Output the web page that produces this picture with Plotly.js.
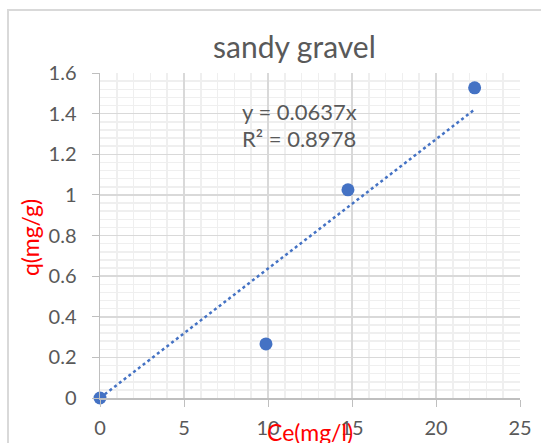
<!DOCTYPE html>
<html>
<head>
<meta charset="utf-8">
<script src="https://cdn.plot.ly/plotly-3.0.1.min.js"></script>
<style>
html,body{margin:0;padding:0;background:#fff;}
#chart{width:541px;height:443px;}
</style>
</head>
<body>
<div id="chart"></div>
<script>
// Data
const ce = [0, 9.88, 14.76, 22.3];
const q = [0, 0.266, 1.025, 1.527];
const slope = 0.0637;
const r2 = 0.8978;
const trendX = [0, 22.3];
const xTicks = [0, 5, 10, 15, 20, 25];
const yTicks = [0, 0.2, 0.4, 0.6, 0.8, 1, 1.2, 1.4, 1.6];
const yTickText = ['0', '0.2', '0.4', '0.6', '0.8', '1', '1.2', '1.4', '1.6'];

const FONT = 'Lato, "Noto Sans", sans-serif';
const GRAY = '#595959';
const BLUE = '#4472c4';

const traces = [
  {
    x: trendX,
    y: trendX.map(v => slope * v),
    mode: 'lines',
    line: {color: BLUE, width: 2.5, dash: 'dot'},
    hoverinfo: 'skip',
    showlegend: false
  },
  {
    x: ce,
    y: q,
    mode: 'markers',
    marker: {color: BLUE, size: 13},
    showlegend: false,
    cliponaxis: false
  }
];

const layout = {
  width: 541,
  height: 443,
  margin: {l: 100, r: 21, t: 73, b: 45},
  paper_bgcolor: '#ffffff',
  plot_bgcolor: '#ffffff',
  font: {family: FONT, color: GRAY, size: 20},
  showlegend: false,
  xaxis: {
    range: [0, 25],
    tickvals: xTicks,
    ticktext: xTicks.map(String),
    showgrid: true,
    gridcolor: '#d9d9d9',
    gridwidth: 1.5,
    minor: {dtick: 1, showgrid: true, gridcolor: '#efefef', gridwidth: 1.5},
    zeroline: false,
    showline: true,
    linecolor: '#bfbfbf',
    linewidth: 1.5,
    ticks: 'outside',
    ticklen: 7,
    tickcolor: '#bfbfbf',
    ticklabelstandoff: 4,
    tickfont: {family: FONT, color: GRAY, size: 20},
    fixedrange: true
  },
  yaxis: {
    range: [0, 1.6],
    tickvals: yTicks,
    ticktext: yTickText,
    showgrid: true,
    gridcolor: '#d9d9d9',
    gridwidth: 1.5,
    minor: {dtick: 0.04, showgrid: true, gridcolor: '#efefef', gridwidth: 1.5},
    zeroline: false,
    showline: true,
    linecolor: '#bfbfbf',
    linewidth: 1.5,
    ticks: 'outside',
    ticklen: 7,
    tickcolor: '#bfbfbf',
    ticklabelstandoff: 11,
    tickfont: {family: FONT, color: GRAY, size: 20},
    fixedrange: true
  },
  annotations: [
    {
      text: 'sandy gravel', xref: 'paper', yref: 'paper',
      x: 0.462, y: 1.083, xanchor: 'center', yanchor: 'middle',
      showarrow: false, font: {family: FONT, color: GRAY, size: 30}
    },
    {
      text: 'q(mg/g)', xref: 'paper', yref: 'paper',
      x: -0.1667, y: 0.495, xanchor: 'center', yanchor: 'middle',
      textangle: -90, showarrow: false,
      font: {family: FONT, color: '#ff0000', size: 23}
    },
    {
      text: 'Ce(mg/l)', xref: 'paper', yref: 'paper',
      x: 0.5, y: -0.105, xanchor: 'center', yanchor: 'middle',
      showarrow: false, font: {family: FONT, color: '#ff0000', size: 23}
    },
    {
      text: 'y = ' + slope + 'x', xref: 'x', yref: 'y',
      x: 8.33, y: 1.41, xanchor: 'left', yanchor: 'middle',
      showarrow: false, font: {family: FONT, color: GRAY, size: 22}
    },
    {
      text: 'R² = ' + r2, xref: 'x', yref: 'y',
      x: 8.33, y: 1.28, xanchor: 'left', yanchor: 'middle',
      showarrow: false, font: {family: FONT, color: GRAY, size: 22}
    }
  ],
  shapes: [
    {
      type: 'rect', xref: 'paper', yref: 'paper', layer: 'below',
      x0: -0.219, x1: 1.08, y0: -0.2, y1: 1.194,
      line: {color: '#d9d9d9', width: 2}, fillcolor: 'rgba(0,0,0,0)'
    }
  ]
};

Plotly.newPlot('chart', traces, layout, {displayModeBar: false, staticPlot: true});
</script>
</body>
</html>
